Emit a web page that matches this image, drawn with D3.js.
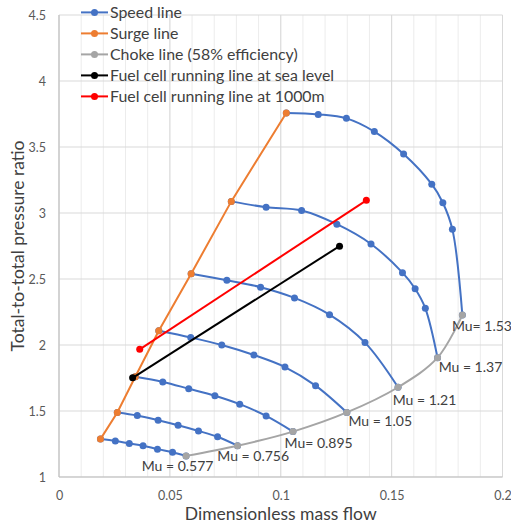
<!DOCTYPE html>
<html>
<head>
<meta charset="utf-8">
<script src="https://cdn.jsdelivr.net/npm/d3@7/dist/d3.min.js"></script>
<style>
  html, body { margin: 0; padding: 0; background: #ffffff; }
  svg text { font-family: Lato, "Open Sans", sans-serif; }
</style>
</head>
<body>
<svg id="chart" width="511" height="529"></svg>
<script>
// Compressor map: speed lines (mass flow, pressure ratio)
const speedLines = [
  { mu: "Mu = 0.577", pts: [[0.0187,1.287],[0.0254,1.272],[0.0317,1.254],[0.0379,1.237],[0.0444,1.211],[0.0512,1.188],[0.0573,1.160]] },
  { mu: "Mu = 0.756", pts: [[0.0263,1.489],[0.0353,1.466],[0.0447,1.430],[0.0537,1.392],[0.0629,1.349],[0.0715,1.305],[0.0805,1.237]] },
  { mu: "Mu= 0.895", pts: [[0.0344,1.759],[0.0468,1.720],[0.0585,1.669],[0.0703,1.616],[0.0815,1.552],[0.0934,1.463],[0.1055,1.344]] },
  { mu: "Mu = 1.05", pts: [[0.0450,2.108],[0.0594,2.057],[0.0734,2.000],[0.0879,1.924],[0.1019,1.833],[0.1157,1.692],[0.1298,1.489]] },
  { mu: "Mu = 1.21", pts: [[0.0596,2.540],[0.0757,2.490],[0.0909,2.438],[0.1062,2.357],[0.1220,2.230],[0.1380,2.018],[0.1529,1.680]] },
  { mu: "Mu = 1.37", pts: [[0.0777,3.088],[0.0934,3.044],[0.1094,3.019],[0.1253,2.915],[0.1407,2.765],[0.1549,2.548],[0.1606,2.426],[0.1652,2.278],[0.1707,1.904]] },
  { mu: "Mu= 1.53", pts: [[0.1025,3.758],[0.1169,3.747],[0.1296,3.717],[0.1422,3.617],[0.1554,3.447],[0.1681,3.218],[0.1731,3.078],[0.1774,2.876],[0.1819,2.227]] }
];

const surgeLine = [[0.0187,1.287],[0.0263,1.489],[0.0344,1.759],[0.0450,2.108],[0.0596,2.540],[0.0777,3.088],[0.1025,3.758]];
const chokeLine = [[0.0573,1.160],[0.0805,1.237],[0.1055,1.344],[0.1298,1.489],[0.1529,1.680],[0.1707,1.904],[0.1819,2.227]];
const runSeaLevel = [[0.0332,1.751],[0.1265,2.749]];
const run1000m = [[0.0364,1.967],[0.1386,3.096]];

// Label anchor points (left edge x, centre y) in data units
const muLabelPos = [[0.0373,1.08],[0.0714,1.16],[0.1017,1.26],[0.1305,1.42],[0.1505,1.58],[0.1712,1.835],[0.1772,2.14]];

const xTicks = [0, 0.05, 0.1, 0.15, 0.2];
const yTicks = [1, 1.5, 2, 2.5, 3, 3.5, 4, 4.5];
const xMinorTicks = d3.range(0, 0.2001, 0.01);

const legendItems = [
  { name: "Speed line", color: "#4472C4" },
  { name: "Surge line", color: "#ED7D31" },
  { name: "Choke line (58% efficiency)", color: "#A5A5A5" },
  { name: "Fuel cell running line at sea level", color: "#000000" },
  { name: "Fuel cell running line at 1000m", color: "#FF0000" }
];

const svg = d3.select("#chart");
const plot = { left: 59, right: 502.5, top: 15, bottom: 477 };

const x = d3.scaleLinear().domain([0, 0.2]).range([plot.left, plot.right]);
const y = d3.scaleLinear().domain([1, 4.5]).range([plot.bottom, plot.top]);

// Grid: minor verticals every 0.01, major every 0.05, horizontals every 0.5
const grid = svg.append("g");
grid.selectAll("line.minor").data(xMinorTicks).join("line")
  .attr("x1", d => x(d)).attr("x2", d => x(d))
  .attr("y1", plot.top).attr("y2", plot.bottom)
  .attr("stroke", "#ececec").attr("stroke-width", 1);
grid.selectAll("line.vmajor").data(xTicks).join("line")
  .attr("x1", d => x(d)).attr("x2", d => x(d))
  .attr("y1", plot.top).attr("y2", plot.bottom)
  .attr("stroke", "#d9d9d9").attr("stroke-width", 1);
grid.selectAll("line.hmajor").data(yTicks).join("line")
  .attr("x1", plot.left).attr("x2", plot.right)
  .attr("y1", d => y(d)).attr("y2", d => y(d))
  .attr("stroke", "#d9d9d9").attr("stroke-width", 1);

// Axis lines
svg.append("line").attr("x1", plot.left).attr("x2", plot.left)
  .attr("y1", plot.top).attr("y2", plot.bottom).attr("stroke", "#bfbfbf");
svg.append("line").attr("x1", plot.left).attr("x2", plot.right)
  .attr("y1", plot.bottom).attr("y2", plot.bottom).attr("stroke", "#bfbfbf");

// Tick labels via d3 axes (no tick marks / domain)
const xAxis = svg.append("g").attr("transform", `translate(0,${plot.bottom})`)
  .call(d3.axisBottom(x).tickValues(xTicks).tickSize(0).tickPadding(14).tickFormat(d => String(+d.toFixed(2))));
const yAxis = svg.append("g").attr("transform", `translate(${plot.left},0)`)
  .call(d3.axisLeft(y).tickValues(yTicks).tickSize(0).tickPadding(13).tickFormat(d => String(d)));
[xAxis, yAxis].forEach(a => {
  a.select(".domain").remove();
  a.selectAll("text").attr("font-size", 12.5).attr("fill", "#595959")
    .attr("font-family", "Lato, 'Open Sans', sans-serif");
});

// Axis titles
svg.append("text").attr("x", (plot.left + plot.right) / 2).attr("y", 520)
  .attr("text-anchor", "middle").attr("font-size", 17.5).attr("fill", "#404040")
  .text("Dimensionless mass flow");
svg.append("text").attr("transform", `translate(24,${(plot.top + plot.bottom) / 2}) rotate(-90)`)
  .attr("text-anchor", "middle").attr("font-size", 17.5).attr("fill", "#404040")
  .text("Total-to-total pressure ratio");

const lineGen = d3.line().x(d => x(d[0])).y(d => y(d[1])).curve(d3.curveCatmullRom.alpha(0.5));
const straight = d3.line().x(d => x(d[0])).y(d => y(d[1]));
const R = 3.5;

function drawSeries(pts, color, gen) {
  const g = svg.append("g");
  g.append("path").attr("d", gen(pts)).attr("fill", "none")
    .attr("stroke", color).attr("stroke-width", 2);
  g.selectAll("circle").data(pts).join("circle")
    .attr("cx", d => x(d[0])).attr("cy", d => y(d[1])).attr("r", R).attr("fill", color);
}

speedLines.forEach(s => drawSeries(s.pts, "#4472C4", lineGen));
drawSeries(surgeLine, "#ED7D31", straight);
drawSeries(chokeLine, "#A5A5A5", lineGen);
drawSeries(runSeaLevel, "#000000", straight);
drawSeries(run1000m, "#FF0000", straight);

// Speed-line labels
svg.append("g").selectAll("text").data(speedLines).join("text")
  .attr("x", (d, i) => x(muLabelPos[i][0]))
  .attr("y", (d, i) => y(muLabelPos[i][1]))
  .attr("dy", "0.35em").attr("font-size", 14).attr("fill", "#404040")
  .text(d => d.mu);

// Legend
const legend = svg.append("g");
legendItems.forEach((it, i) => {
  const ly = 12.4 + i * 21;
  legend.append("line").attr("x1", 81).attr("x2", 108).attr("y1", ly).attr("y2", ly)
    .attr("stroke", it.color).attr("stroke-width", 2);
  legend.append("circle").attr("cx", 94.5).attr("cy", ly).attr("r", R).attr("fill", it.color);
  legend.append("text").attr("x", 110).attr("y", ly).attr("dy", "0.35em")
    .attr("font-size", 15.9).attr("fill", "#404040").text(it.name);
});
</script>
</body>
</html>
